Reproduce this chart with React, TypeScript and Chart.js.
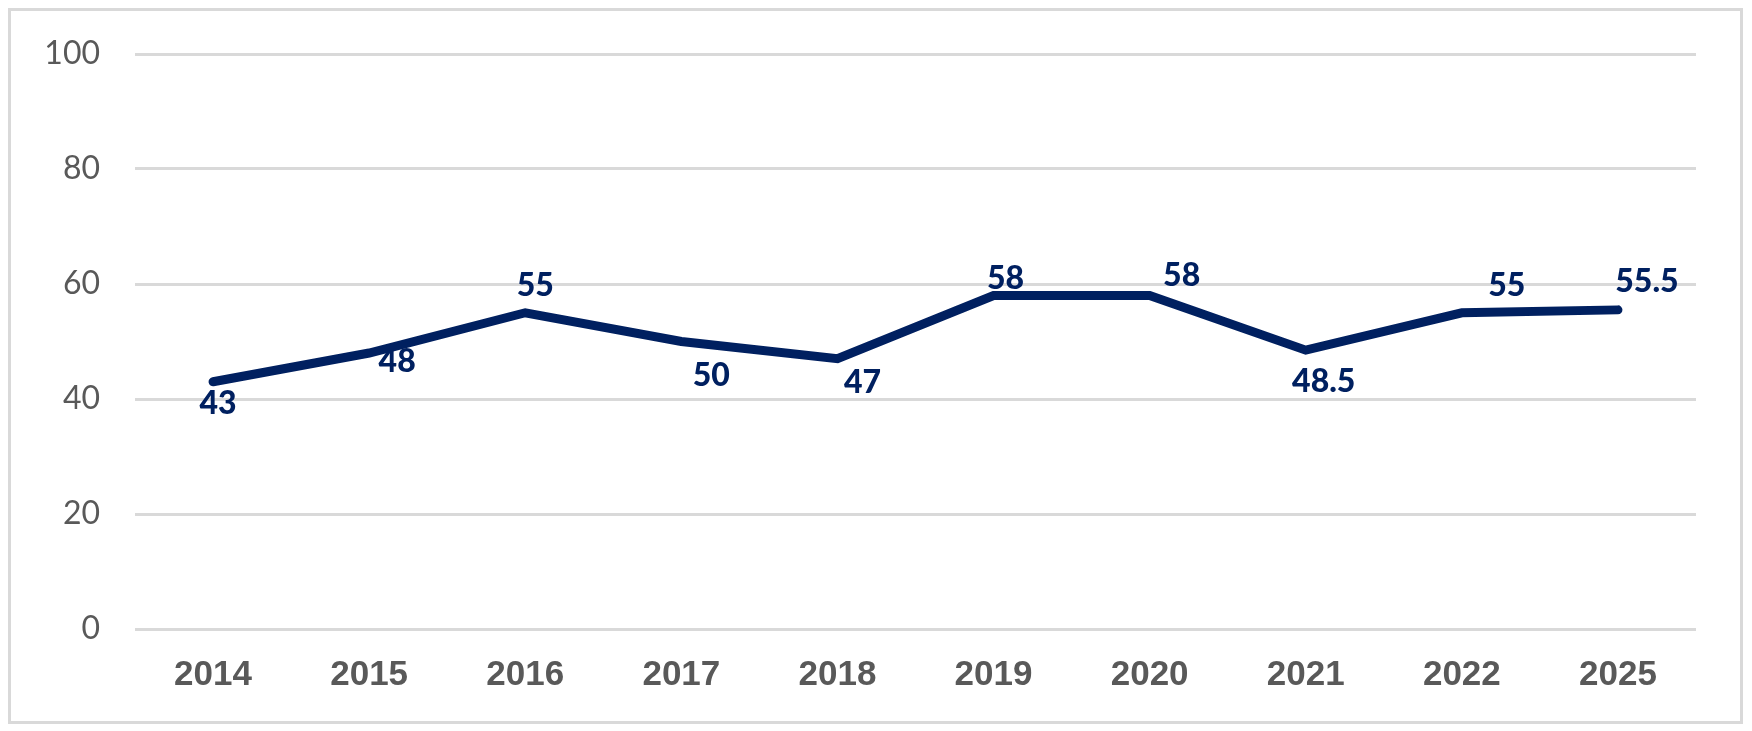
import React, { useEffect, useRef } from "react";
import { Chart, registerables } from "chart.js";

Chart.register(...registerables);

const categories = ["2014", "2015", "2016", "2017", "2018", "2019", "2020", "2021", "2022", "2025"];
const values = [43, 48, 55, 50, 47, 58, 58, 48.5, 55, 55.5];
const valueLabels = ["43", "48", "55", "50", "47", "58", "58", "48.5", "55", "55.5"];
const yTicks = [0, 20, 40, 60, 80, 100];

// label placement (pixel offsets of each label centre from its point)
const labelDx = [5, 28, 10, 30, 25, 12, 32, 18, 45, 29];
const labelDy = [22, 9, -27, 34, 24, -17, -20, 32, -27, -28];

const NAVY = "#002060";
const GREY = "#595959";
const GRID = "#d9d9d9";

const labelPlugin = {
  id: "valueLabels",
  afterDatasetsDraw(chart: any) {
    const ctx = chart.ctx;
    const meta = chart.getDatasetMeta(0);
    ctx.save();
    ctx.font = "900 32px Lato";
    ctx.fillStyle = NAVY;
    ctx.textAlign = "center";
    ctx.textBaseline = "middle";
    meta.data.forEach((pt: any, i: number) => {
      ctx.fillText(valueLabels[i], pt.x + labelDx[i], pt.y + labelDy[i]);
    });
    ctx.restore();
  },
};

export default function App() {
  const ref = useRef<HTMLCanvasElement | null>(null);

  useEffect(() => {
    if (!ref.current) return;
    const chart = new Chart(ref.current, {
      type: "line",
      data: {
        labels: categories,
        datasets: [
          {
            data: values,
            borderColor: NAVY,
            backgroundColor: NAVY,
            borderWidth: 9,
            borderCapStyle: "round",
            borderJoinStyle: "miter",
            pointRadius: 0,
            pointHoverRadius: 0,
            tension: 0,
            fill: false,
          },
        ],
      },
      options: {
        animation: false,
        responsive: false,
        maintainAspectRatio: false,
        devicePixelRatio: 1,
        layout: { padding: { left: 0, right: 44, top: 43, bottom: 0 } },
        plugins: {
          legend: { display: false },
          tooltip: { enabled: false },
          title: { display: false },
        },
        scales: {
          x: {
            type: "category",
            offset: true,
            grid: { display: false, drawTicks: false },
            border: { display: false },
            ticks: {
              color: GREY,
              font: { family: "'Liberation Sans', Arial", size: 35, weight: "bold" },
              padding: 25,
              maxRotation: 0,
              autoSkip: false,
            },
            afterFit(scale: any) {
              scale.height = 92;
              scale.paddingLeft = 0;
              scale.paddingRight = 0;
            },
          },
          y: {
            min: 0,
            max: 100,
            afterBuildTicks(scale: any) {
              scale.ticks = yTicks.map((v) => ({ value: v }));
            },
            grid: { color: GRID, lineWidth: 3, drawTicks: false },
            border: { display: false },
            ticks: {
              color: GREY,
              font: { family: "Lato", size: 32 },
              padding: 35,
            },
            afterFit(scale: any) {
              scale.width = 124;
              scale.paddingTop = 0;
              scale.paddingBottom = 0;
            },
          },
        },
      },
      plugins: [labelPlugin],
    });
    return () => chart.destroy();
  }, []);

  return (
    <div
      style={{
        width: 1735,
        height: 716,
        boxSizing: "border-box",
        border: "3px solid #d9d9d9",
        background: "#fff",
      }}
    >
      <canvas ref={ref} width={1729} height={710} style={{ display: "block" }} />
    </div>
  );
}
